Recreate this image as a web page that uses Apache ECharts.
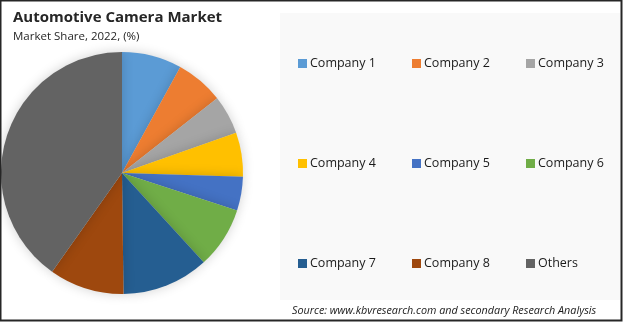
<!DOCTYPE html>
<html><head><meta charset="utf-8">
<script src="https://cdn.jsdelivr.net/npm/echarts@6/dist/echarts.min.js"></script>
<style>html,body{margin:0;padding:0;background:#fff}#c{width:623px;height:322px}</style>
</head><body><div id="c"></div>
<script>
const categories = ['Company 1','Company 2','Company 3','Company 4','Company 5','Company 6','Company 7','Company 8','Others'];
const shares = [8.0, 6.4, 5.2, 5.9, 4.5, 8.2, 11.6, 10.0, 40.2];
const colors = ['#5B9BD5','#ED7D31','#A5A5A5','#FFC000','#4472C4','#70AD47','#255E91','#9E480E','#636363'];
const legendColumns = [[0,3,6],[1,4,7],[2,5,8]];

const chart = echarts.init(document.getElementById('c'), null, {renderer:'canvas'});
const font = 'Open Sans, Liberation Sans, sans-serif';
const legendLefts = [298, 412, 526];
const legends = legendColumns.map((col, i) => ({
  orient: 'vertical', left: legendLefts[i], top: 57, padding: 0,
  itemWidth: 9, itemHeight: 9, itemGap: 87, icon: 'rect',
  data: col.map(k => categories[k]),
  textStyle: {fontFamily: font, fontSize: 12.5, color: '#1a1a1a', padding: [0,0,0,-2]},
  selectedMode: false
}));
chart.setOption({
  animation: false,
  backgroundColor: '#ffffff',
  graphic: [
    {type:'rect', shape:{x:280, y:13, width:340, height:287}, style:{fill:'#f9f9f9'}, z:-10},
    {type:'rect', shape:{x:0.5, y:0.5, width:621, height:320}, style:{fill:'none', stroke:'#262626', lineWidth:2}, z:100}
  ],
  title: [
    {text:'Automotive Camera Market', left: 13, top: 10, padding: 0, textStyle:{fontFamily:font, fontSize:15, fontWeight:'bold', color:'#262626'}},
    {text:'Market Share, 2022, (%)', left: 13, top: 31, padding: 0, textStyle:{fontFamily:font, fontSize:11.5, fontWeight:'normal', color:'#262626'}},
    {text:'Source: www.kbvresearch.com and secondary Research Analysis', left: 292, top: 305, padding: 0, textStyle:{fontFamily:font, fontSize:10.8, fontStyle:'italic', fontWeight:'normal', color:'#1a1a1a'}}
  ],
  legend: legends,
  series: [{
    type: 'pie', center: [122, 173], radius: 121, startAngle: 90, clockwise: true,
    label: {show:false}, labelLine:{show:false},
    emphasis: {disabled: true},
    itemStyle: {borderWidth: 0, shadowBlur: 12, shadowColor: 'rgba(0,0,0,0.18)'},
    data: categories.map((c, i) => ({name: c, value: shares[i], itemStyle: {color: colors[i]}}))
  }]
});
</script></body></html>
